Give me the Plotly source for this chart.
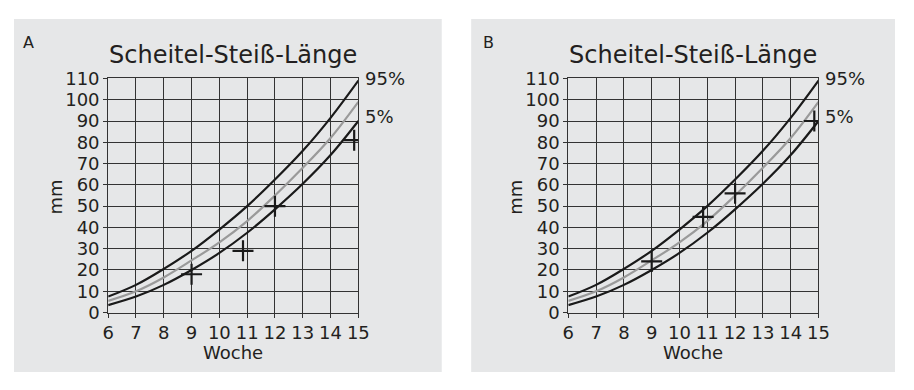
import plotly.graph_objects as go

weeks = [6, 7, 8, 9, 10, 11, 12, 13, 14, 15]
p95 = [7.5, 13, 20.5, 29, 39, 50, 62.5, 76, 91.5, 109]
p50 = [5.5, 10, 16.5, 24.5, 33, 43, 55, 68, 82, 99]
p05 = [3.5, 7.5, 13, 20, 28, 37.5, 48.5, 60.5, 74, 90]

a_x = [9, 10.85, 12, 14.85]
a_y = [18, 29, 50, 81]
b_x = [9, 10.85, 12, 14.85]
b_y = [24, 45, 56, 90]

panel_labels = ["A", "B"]
title_text = "Scheitel-Steiß-Länge"
x_title = "Woche"
y_title = "mm"
x_ticks = list(range(6, 16))
y_ticks = list(range(0, 111, 10))

# The page keeps the browser's default 8px body margin; size the figure so the
# whole page is exactly 914x390 and place everything in window pixels.
OX, OY = 8, 8
FW, FH = 914 - 2 * OX, 390 - 2 * OY


def px(X):
    return min(1, max(0, (X - OX) / FW))


def py(Y):
    return min(1, max(0, 1 - (Y - OY) / FH))


FONT = "DejaVu Sans, Liberation Sans, Arial, sans-serif"
TXT = "#231f20"

fig = go.Figure()

panels = [
    dict(xa="x", ya="y", dom=[px(104), px(359)], px=a_x, py=a_y, bg=[5, 444], lab=23),
    dict(xa="x2", ya="y2", dom=[px(573), px(828)], px=b_x, py=b_y, bg=[474, 914], lab=492),
]
ydom = [py(319), py(71)]

for i, p in enumerate(panels):
    for vals, col in [(p95, "#1a1a1a"), (p05, "#1a1a1a"), (p50, "#9a9a9a")]:
        fig.add_trace(go.Scatter(x=weeks, y=vals, mode="lines", xaxis=p["xa"], yaxis=p["ya"],
                                 line=dict(color=col, width=2.2, shape="spline"),
                                 showlegend=False, hoverinfo="skip"))
    fig.add_trace(go.Scatter(x=p["px"], y=p["py"], mode="markers", xaxis=p["xa"], yaxis=p["ya"],
                             marker=dict(symbol="cross-thin", size=15,
                                         line=dict(color="#1a1a1a", width=2.2)),
                             showlegend=False))
    fig.add_shape(type="rect", xref="paper", yref="paper", layer="below",
                  x0=px(p["bg"][0]), x1=px(p["bg"][1]), y0=py(388), y1=py(4),
                  fillcolor="#e6e7e8", line=dict(width=0))
    xc = (p["dom"][0] + p["dom"][1]) / 2
    fig.add_annotation(text=panel_labels[i], xref="paper", yref="paper", x=px(p["lab"]), y=py(33),
                       showarrow=False, xanchor="center", yanchor="middle",
                       font=dict(size=16, color=TXT, family=FONT))
    fig.add_annotation(text=title_text, xref="paper", yref="paper", x=xc, y=py(46),
                       showarrow=False, xanchor="center", yanchor="middle",
                       font=dict(size=24, color=TXT, family=FONT))
    fig.add_annotation(text=x_title, xref="paper", yref="paper", x=xc, y=py(361),
                       showarrow=False, xanchor="center", yanchor="middle",
                       font=dict(size=18, color=TXT, family=FONT))
    fig.add_annotation(text=y_title, xref="paper", yref="paper", x=p["dom"][0] - 54 / FW, y=py(197),
                       showarrow=False, xanchor="center", yanchor="middle", textangle=-90,
                       font=dict(size=18, color=TXT, family=FONT))
    fig.add_annotation(text="95%", xref=p["xa"], yref=p["ya"], x=15, y=110, xshift=5,
                       showarrow=False, xanchor="left", yanchor="middle",
                       font=dict(size=18, color=TXT, family=FONT))
    fig.add_annotation(text="5%", xref=p["xa"], yref=p["ya"], x=15, y=92, xshift=5,
                       showarrow=False, xanchor="left", yanchor="middle",
                       font=dict(size=18, color=TXT, family=FONT))

axis_common = dict(showline=True, mirror=True, linecolor="#333333", linewidth=1,
                   showgrid=True, gridcolor="#333333", gridwidth=1, zeroline=False,
                   ticks="outside", ticklen=4, tickcolor="#333333",
                   tickfont=dict(size=18, color=TXT, family=FONT), fixedrange=True)

for i, p in enumerate(panels):
    sx = "" if i == 0 else "2"
    fig.layout["xaxis" + sx] = dict(axis_common, domain=p["dom"], range=[6, 15],
                                    tickvals=x_ticks, anchor="y" + sx)
    fig.layout["yaxis" + sx] = dict(axis_common, domain=ydom, range=[0, 110],
                                    tickvals=y_ticks, anchor="x" + sx)

fig.update_layout(width=FW, height=FH, margin=dict(l=0, r=0, t=0, b=0),
                  paper_bgcolor="white", plot_bgcolor="white", showlegend=False)

fig.write_html("out.html")
